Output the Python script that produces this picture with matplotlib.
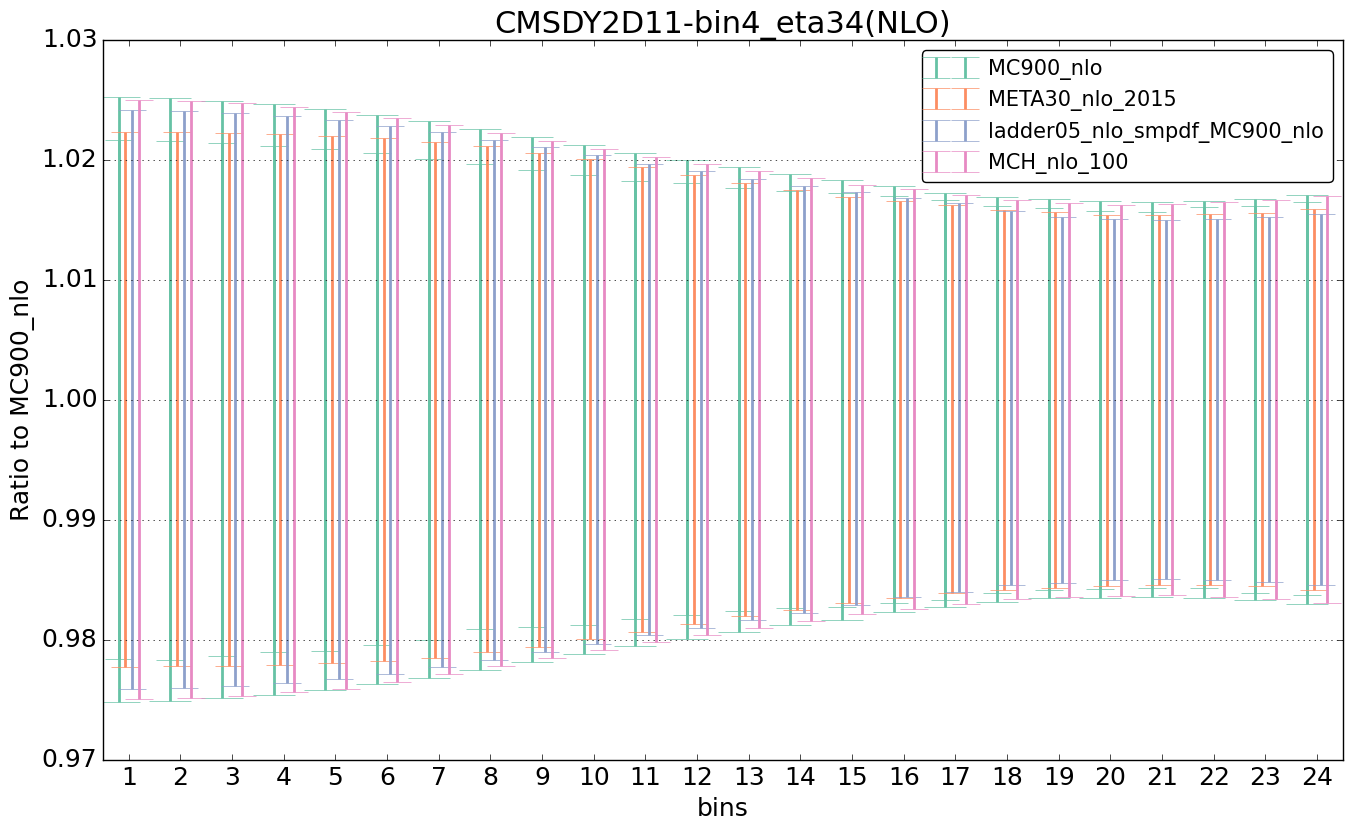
import numpy as np
import matplotlib
matplotlib.use("Agg")
import matplotlib.pyplot as plt

plt.style.use("classic")

bins = list(range(1, 25))
labels = ["MC900_nlo", "META30_nlo_2015", "ladder05_nlo_smpdf_MC900_nlo", "MCH_nlo_100"]
colors = ["#66c2a5", "#fc8d62", "#8da0cb", "#e78ac3"]

# MC900_nlo: 1-sigma band (inner) and 68% CL band (outer)
mc900_hi = [1.02164, 1.02156, 1.02139, 1.02114, 1.02092, 1.02058, 1.02008, 1.01967,
            1.01917, 1.01875, 1.01822, 1.01806, 1.01764, 1.01739, 1.01725, 1.01700,
            1.01667, 1.01617, 1.01600, 1.01575, 1.01564, 1.01606, 1.01614, 1.01648]
mc900_lo = [0.97839, 0.97831, 0.97864, 0.97897, 0.97908, 0.97958, 0.98000, 0.98092,
            0.98108, 0.98125, 0.98172, 0.98206, 0.98239, 0.98264, 0.98275, 0.98308,
            0.98333, 0.98392, 0.98417, 0.98425, 0.98433, 0.98431, 0.98389, 0.98373]
mc900_ci_hi = [1.02522, 1.02514, 1.02489, 1.02464, 1.02425, 1.02375, 1.02325, 1.02258,
               1.02192, 1.02123, 1.02056, 1.01998, 1.01939, 1.01881, 1.01833, 1.01783,
               1.01725, 1.01692, 1.01675, 1.01658, 1.01648, 1.01656, 1.01673, 1.01706]
mc900_ci_lo = [0.97481, 0.97492, 0.97514, 0.97539, 0.97583, 0.97633, 0.97683, 0.97750,
               0.97817, 0.97881, 0.97948, 0.98006, 0.98064, 0.98123, 0.98167, 0.98233,
               0.98275, 0.98317, 0.98350, 0.98350, 0.98356, 0.98348, 0.98331, 0.98298]

meta30_hi = [1.02231, 1.02231, 1.02222, 1.02214, 1.02200, 1.02183, 1.02150, 1.02117,
             1.02058, 1.02006, 1.01939, 1.01873, 1.01806, 1.01750, 1.01692, 1.01658,
             1.01625, 1.01583, 1.01567, 1.01542, 1.01539, 1.01548, 1.01556, 1.01589]
meta30_lo = [0.97773, 0.97781, 0.97781, 0.97789, 0.97808, 0.97825, 0.97850, 0.97900,
             0.97942, 0.98006, 0.98064, 0.98131, 0.98197, 0.98253, 0.98308, 0.98350,
             0.98392, 0.98417, 0.98433, 0.98450, 0.98456, 0.98456, 0.98448, 0.98414]

ladder_hi = [1.02414, 1.02406, 1.02389, 1.02364, 1.02333, 1.02283, 1.02233, 1.02167,
             1.02108, 1.02042, 1.01964, 1.01906, 1.01839, 1.01783, 1.01733, 1.01683,
             1.01642, 1.01575, 1.01525, 1.01508, 1.01498, 1.01506, 1.01523, 1.01548]
ladder_lo = [0.97589, 0.97598, 0.97614, 0.97639, 0.97675, 0.97717, 0.97775, 0.97833,
             0.97900, 0.97964, 0.98039, 0.98098, 0.98164, 0.98223, 0.98292, 0.98358,
             0.98400, 0.98458, 0.98475, 0.98500, 0.98506, 0.98498, 0.98481, 0.98456]

mch_hi = [1.02497, 1.02489, 1.02473, 1.02439, 1.02400, 1.02350, 1.02292, 1.02225,
          1.02158, 1.02089, 1.02023, 1.01964, 1.01906, 1.01850, 1.01792, 1.01758,
          1.01708, 1.01667, 1.01642, 1.01625, 1.01631, 1.01648, 1.01664, 1.01697]
mch_lo = [0.97506, 0.97514, 0.97531, 0.97564, 0.97592, 0.97650, 0.97717, 0.97783,
          0.97850, 0.97914, 0.97981, 0.98039, 0.98098, 0.98156, 0.98217, 0.98258,
          0.98300, 0.98342, 0.98358, 0.98367, 0.98373, 0.98356, 0.98339, 0.98306]

bands = [(mc900_hi, mc900_lo), (meta30_hi, meta30_lo), (ladder_hi, ladder_lo), (mch_hi, mch_lo)]

fig = plt.figure(figsize=(13.53, 8.30), dpi=100)
ax = fig.add_axes([0.0761, 0.0843, 0.9165, 0.8675])

x = np.array(bins, dtype=float)
step = 0.13
for i, ((hi, lo), color, label) in enumerate(zip(bands, colors, labels)):
    hi = np.array(hi)
    lo = np.array(lo)
    cv = 0.5 * (hi + lo)
    shift = (i - 1.5) * step
    ax.errorbar(x + shift, cv, yerr=[cv - lo, hi - cv], linestyle="none",
                color=color, label=label, elinewidth=2, capsize=10)
    if i == 0:
        # wider caps for the 68% CL of the reference set
        chi = np.array(mc900_ci_hi)
        clo = np.array(mc900_ci_lo)
        ax.errorbar(x + shift, cv, yerr=[cv - clo, chi - cv], linestyle="none",
                    color=color, elinewidth=2, capsize=15)

ax.set_xlim(0.5, 24.5)
ax.set_ylim(0.97, 1.03)
ax.set_xticks(bins)
ax.set_yticks(np.arange(0.97, 1.0301, 0.01))
ax.yaxis.set_major_formatter(matplotlib.ticker.FormatStrFormatter("%.2f"))
ax.tick_params(labelsize=18)
ax.grid(axis="y")
ax.grid(axis="x", visible=False)

ax.set_title("CMSDY2D11-bin4_eta34(NLO)", fontsize=22)
ax.set_xlabel("bins", fontsize=18)
ax.set_ylabel("Ratio to MC900_nlo", fontsize=18)

leg = ax.legend(loc="upper right", fontsize=15, numpoints=2, fancybox=True)

fig.savefig("out.png", dpi=100)
